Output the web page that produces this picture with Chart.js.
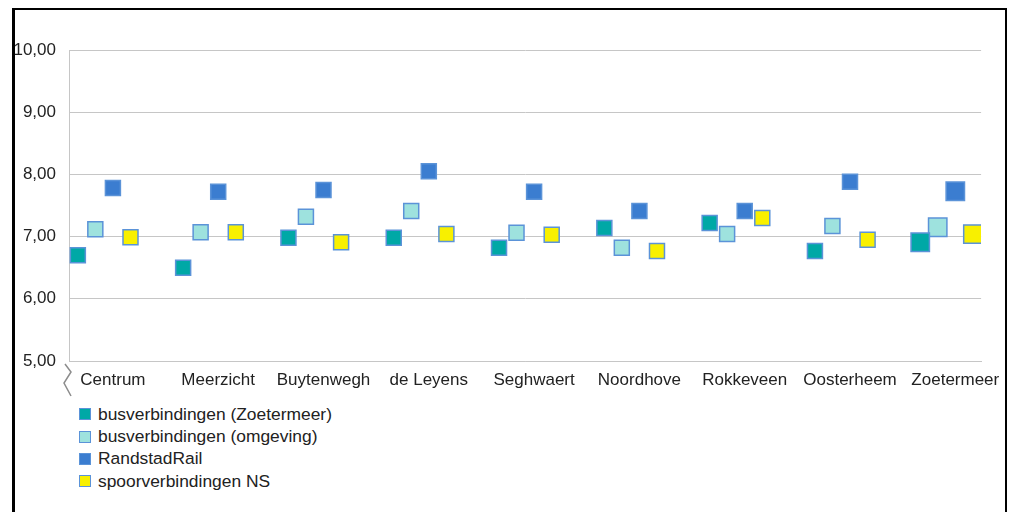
<!DOCTYPE html>
<html lang="nl">
<head>
    <meta charset="UTF-8">
    <title>Rapportcijfers per wijk</title>
    <style>
        body {
            margin: 0;
            padding: 0;
            background-color: #fff;
            font-family: "Liberation Sans", Arial, sans-serif;
        }

        .frame {
            position: absolute;
            left: 12px;
            top: 8px;
            width: 995px;
            height: 600px;
            box-sizing: border-box;
            border: 2px solid #000;
            border-left-width: 3px;
        }

        .chart-container {
            position: absolute;
            left: 0;
            top: 0;
            width: 1009px;
            height: 400px;
        }

        #legend {
            position: absolute;
            left: 79px;
            top: 403px;
            font-size: 17.4px;
            color: #222;
        }

        #legend .item {
            display: flex;
            align-items: center;
            height: 22.4px;
        }

        #legend .box {
            width: 12px;
            height: 12px;
            box-sizing: border-box;
            border: 1.5px solid;
            margin-right: 7px;
        }
    </style>
    <script src="https://cdn.jsdelivr.net/npm/chart.js"></script>
</head>
<body>

<div class="frame"></div>
<div class="chart-container">
    <canvas id="wijkChart"></canvas>
</div>
<div id="legend"></div>

<script>
    // Wijken en gemiddelde rapportcijfers per vervoersvorm
    const categories = ['Centrum', 'Meerzicht', 'Buytenwegh', 'de Leyens', 'Seghwaert',
                        'Noordhove', 'Rokkeveen', 'Oosterheem', 'Zoetermeer'];
    const busZoetermeer = [6.70, 6.50, 6.98, 6.98, 6.82, 7.14, 7.22, 6.77, 6.91];
    const busOmgeving   = [7.12, 7.07, 7.32, 7.41, 7.06, 6.82, 7.04, 7.17, 7.15];
    const randstadRail  = [7.78, 7.72, 7.75, 8.05, 7.72, 7.41, 7.41, 7.88, 7.73];
    const spoorNS       = [6.99, 7.07, 6.91, 7.04, 7.03, 6.77, 7.30, 6.95, 7.04];
    const yTicks = [5, 6, 7, 8, 9, 10];

    const outline = '#5b93d8';
    const tickFont = { family: '"Liberation Sans", Arial', size: 17 };

    // markers within a category sit next to each other
    function series(label, values, offset, color) {
        return {
            label: label,
            data: values.map((v, i) => ({ x: i + offset, y: v })),
            backgroundColor: color,
            borderColor: outline,
            borderWidth: 1.5,
            pointStyle: 'rect',
            // the total for Zoetermeer is drawn slightly larger
            pointRadius: ctx => ctx.dataIndex === categories.length - 1 ? 13 : 10.6,
            pointHoverRadius: ctx => ctx.dataIndex === categories.length - 1 ? 13 : 10.6,
            showLine: false
        };
    }

    // zigzag under the value axis to show it does not start at zero
    const axisBreak = {
        id: 'axisBreak',
        afterDraw(chart) {
            const ctx = chart.ctx;
            const x = chart.chartArea.left;
            const y = chart.chartArea.bottom;
            ctx.save();
            ctx.strokeStyle = '#8c8c8c';
            ctx.lineWidth = 1.5;
            ctx.beginPath();
            ctx.moveTo(x - 4, y + 3);
            ctx.lineTo(x + 2, y + 11);
            ctx.lineTo(x - 5, y + 22);
            ctx.lineTo(x + 2, y + 35);
            ctx.stroke();
            ctx.restore();
        }
    };

    const ctx = document.getElementById('wijkChart').getContext('2d');
    const wijkChart = new Chart(ctx, {
        type: 'scatter',
        data: {
            datasets: [
                series('busverbindingen (Zoetermeer)', busZoetermeer, -0.333, '#00a8a6'),
                series('busverbindingen (omgeving)', busOmgeving, -0.167, '#9ee2de'),
                series('RandstadRail', randstadRail, 0, '#3b7dd0'),
                series('spoorverbindingen NS', spoorNS, 0.167, '#f8f000')
            ]
        },
        options: {
            responsive: true,
            maintainAspectRatio: false,
            animation: false,
            layout: {
                padding: { top: 50, right: 27, left: 0, bottom: 0 }
            },
            plugins: {
                legend: { display: false },
                tooltip: { enabled: false }
            },
            scales: {
                x: {
                    type: 'linear',
                    min: -0.417,
                    max: 8.245,
                    afterFit: scale => { scale.height = 39; },
                    afterBuildTicks: scale => {
                        scale.ticks = categories.map((c, i) => ({ value: i }));
                    },
                    grid: { display: false, drawTicks: false },
                    border: { display: true, color: '#c6c6c6', width: 1 },
                    ticks: {
                        padding: 9,
                        autoSkip: false,
                        maxRotation: 0,
                        color: '#222',
                        font: tickFont,
                        callback: value => categories[value]
                    }
                },
                y: {
                    min: 5,
                    max: 10,
                    afterFit: scale => { scale.width = 69; },
                    afterBuildTicks: scale => {
                        scale.ticks = yTicks.map(v => ({ value: v }));
                    },
                    grid: { color: '#c6c6c6', lineWidth: 1, drawTicks: false },
                    border: { display: true, color: '#c6c6c6', width: 1 },
                    ticks: {
                        padding: 13,
                        color: '#222',
                        font: tickFont,
                        callback: value => value.toFixed(2).replace('.', ',')
                    }
                }
            }
        },
        plugins: [axisBreak]
    });

    // legend as a vertical list under the chart
    const legendEl = document.getElementById('legend');
    wijkChart.data.datasets.forEach(ds => {
        const item = document.createElement('div');
        item.className = 'item';
        const box = document.createElement('span');
        box.className = 'box';
        box.style.backgroundColor = ds.backgroundColor;
        box.style.borderColor = ds.borderColor;
        const text = document.createElement('span');
        text.textContent = ds.label;
        item.appendChild(box);
        item.appendChild(text);
        legendEl.appendChild(item);
    });
</script>

</body>
</html>
